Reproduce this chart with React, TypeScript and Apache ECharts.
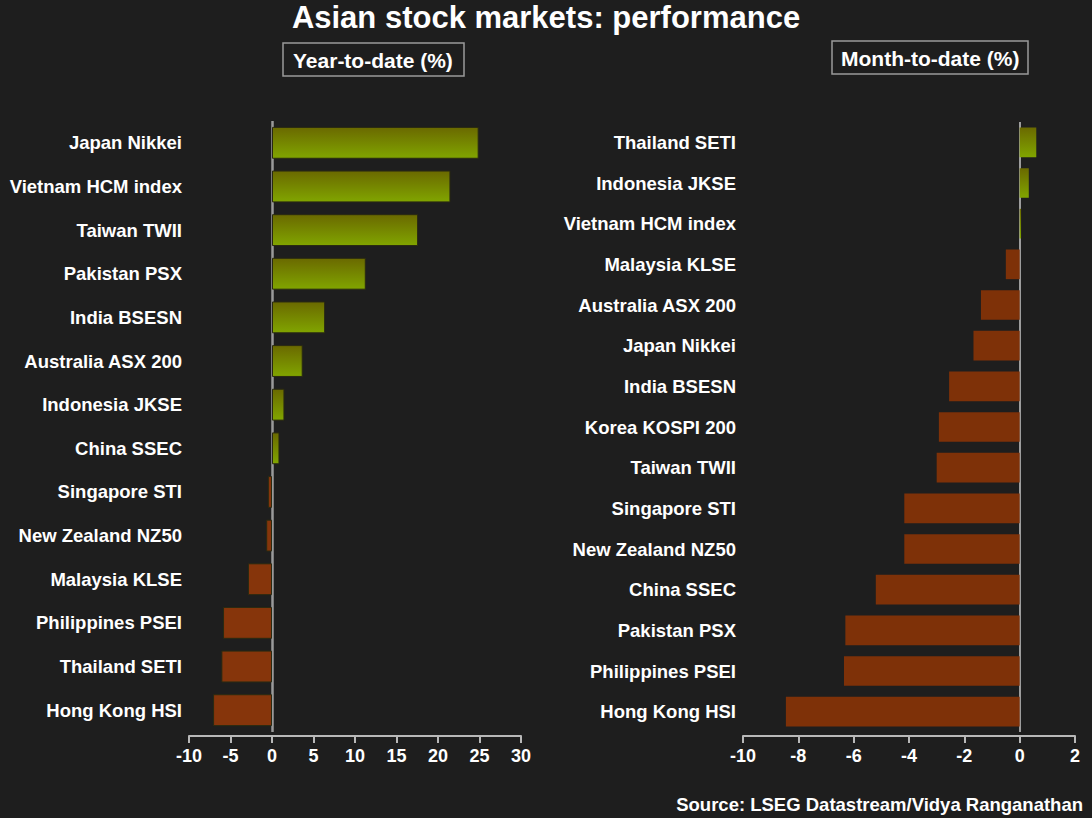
import React, { useEffect, useRef } from "react";
import * as echarts from "echarts";

const ytdCategories = [
  "Japan Nikkei", "Vietnam HCM index", "Taiwan TWII", "Pakistan PSX", "India BSESN",
  "Australia ASX 200", "Indonesia JKSE", "China SSEC", "Singapore STI", "New Zealand NZ50",
  "Malaysia KLSE", "Philippines PSEI", "Thailand SETI", "Hong Kong HSI",
];
const ytdValues = [24.9, 21.5, 17.6, 11.3, 6.4, 3.7, 1.5, 0.9, -0.5, -0.7, -2.9, -5.9, -6.1, -7.1];

const mtdCategories = [
  "Thailand SETI", "Indonesia JKSE", "Vietnam HCM index", "Malaysia KLSE", "Australia ASX 200",
  "Japan Nikkei", "India BSESN", "Korea KOSPI 200", "Taiwan TWII", "Singapore STI",
  "New Zealand NZ50", "China SSEC", "Pakistan PSX", "Philippines PSEI", "Hong Kong HSI",
];
const mtdValues = [0.6, 0.33, 0.05, -0.5, -1.4, -1.67, -2.55, -2.92, -3.0, -4.17, -4.17, -5.2, -6.3, -6.35, -8.45];

const ytdTicks = { min: -10, max: 30, interval: 5 };
const mtdTicks = { min: -10, max: 2, interval: 2 };

const FONT = "'Liberation Sans', Arial, sans-serif";
const POS = {
  type: "linear", x: 0, y: 0, x2: 0, y2: 1,
  colorStops: [
    { offset: 0, color: "#6a6900" },
    { offset: 1, color: "#81a500" },
  ],
};

export default function App() {
  const ref = useRef<HTMLDivElement>(null);
  useEffect(() => {
    document.body.style.margin = "0";
    const chart = echarts.init(ref.current!, null, { renderer: "svg" });
    const axisX = (idx: number, t: any, off: number) => ({
      type: "value", gridIndex: idx, min: t.min, max: t.max, interval: t.interval,
      offset: off,
      axisLine: { show: true, onZero: false, lineStyle: { color: "#b8b8b8", width: 2 } },
      axisTick: { show: true, length: 7, lineStyle: { color: "#b8b8b8", width: 2 } },
      axisLabel: { color: "#ffffff", fontSize: 18, fontWeight: "bold", fontFamily: FONT, margin: 11 },
      splitLine: { show: false },
    });
    const axisY = (idx: number, cats: string[]) => ({
      type: "category", gridIndex: idx, data: cats, inverse: true,
      axisLine: { show: false }, axisTick: { show: false },
      axisLabel: { color: "#ffffff", fontSize: 18.5, fontWeight: "bold", fontFamily: FONT, margin: 7 },
    });
    const mkData = (vals: number[], neg: string, border: boolean) =>
      vals.map((v) => ({
        value: v,
        itemStyle: {
          color: v >= 0 ? POS : neg,
          borderColor: border ? "#2a2a12" : "transparent",
          borderWidth: border ? 1 : 0,
        },
      }));
    const zeroLine = (color: string, width: number) => ({
      silent: true, symbol: "none", z: 1,
      label: { show: false },
      lineStyle: { color, width, type: "solid" },
      data: [{ xAxis: 0 }],
    });
    chart.setOption({
      animation: false,
      backgroundColor: "#1e1e1e",
      title: [
        {
          text: "Asian stock markets: performance", left: "center", top: 1, padding: 0,
          textStyle: { color: "#ffffff", fontSize: 31, fontWeight: "bold", fontFamily: FONT, lineHeight: 32 },
        },
        {
          text: "Year-to-date (%)", left: 283, top: 43, padding: [5, 11, 4, 10],
          borderColor: "#9a9a9a", borderWidth: 1.5,
          textStyle: { color: "#ffffff", fontSize: 21, fontWeight: "bold", fontFamily: FONT, lineHeight: 24 },
        },
        {
          text: "Month-to-date (%)", left: 832, top: 41, padding: [5, 9, 4, 9],
          borderColor: "#9a9a9a", borderWidth: 1.5,
          textStyle: { color: "#ffffff", fontSize: 21, fontWeight: "bold", fontFamily: FONT, lineHeight: 24 },
        },
        {
          text: "Source: LSEG Datastream/Vidya Ranganathan", right: 9, top: 795, padding: 0,
          textStyle: { color: "#ffffff", fontSize: 18.5, fontWeight: "bold", fontFamily: FONT },
        },
      ],
      grid: [
        { left: 189, right: 1092 - 521, top: 121, height: 611 },
        { left: 743, right: 1092 - 1075, top: 122, height: 610 },
      ],
      xAxis: [axisX(0, ytdTicks, 4), axisX(1, mtdTicks, 4)],
      yAxis: [axisY(0, ytdCategories), axisY(1, mtdCategories)],
      series: [
        {
          type: "bar", xAxisIndex: 0, yAxisIndex: 0, barCategoryGap: "27%",
          data: mkData(ytdValues, "#86350b", true),
          markLine: zeroLine("#9a9a9a", 2.5),
        },
        {
          type: "bar", xAxisIndex: 1, yAxisIndex: 1, barCategoryGap: "27%",
          data: mkData(mtdValues, "#7e3108", false),
          markLine: zeroLine("#c8c8c8", 1.5),
        },
      ],
    });
    return () => chart.dispose();
  }, []);
  return <div ref={ref} style={{ width: 1092, height: 818, position: "fixed", left: 0, top: 0 }} />;
}
